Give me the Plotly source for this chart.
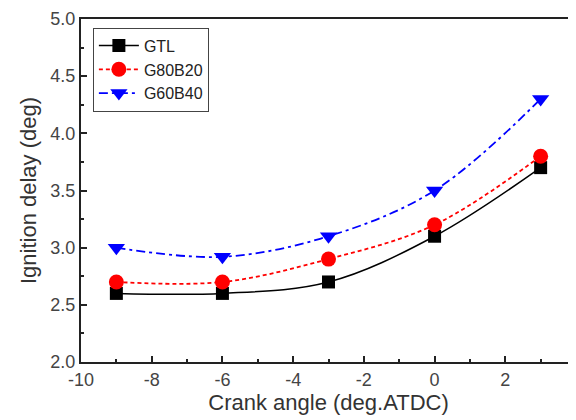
import plotly.graph_objects as go

crank_angle = [-9, -6, -3, 0, 3]
gtl = [2.6, 2.6, 2.7, 3.1, 3.7]
g80b20 = [2.7, 2.7, 2.9, 3.2, 3.8]
g60b40 = [3.0, 2.92, 3.1, 3.5, 4.3]
x_tick_vals = [-10, -8, -6, -4, -2, 0, 2, 4]
x_tick_text = ["-10", "-8", "-6", "-4", "-2", "0", "2", "4"]

fig = go.Figure()
fig.add_trace(go.Scatter(x=crank_angle, y=gtl, name="GTL", mode="lines+markers",
                         line=dict(color="black", width=1.5, shape="spline"),
                         marker=dict(symbol="square", size=13, color="black")))
fig.add_trace(go.Scatter(x=crank_angle, y=g80b20, name="G80B20", mode="lines+markers",
                         line=dict(color="red", width=1.8, shape="spline", dash="4px,3px"),
                         marker=dict(symbol="circle", size=15, color="red")))
fig.add_trace(go.Scatter(x=crank_angle, y=g60b40, name="G60B40", mode="lines+markers",
                         line=dict(color="blue", width=1.8, shape="spline", dash="9px,4px,3px,4px"),
                         marker=dict(symbol="triangle-down", size=15, color="blue")))

axis_common = dict(showgrid=False, zeroline=False, showline=True, linecolor="#222",
                   linewidth=2, mirror=True, ticks="inside", ticklen=6, tickwidth=1.5,
                   tickcolor="#222", automargin=False,
                   tickfont=dict(family="Liberation Sans, Arial", size=18, color="#444"))

fig.update_layout(
    width=576, height=420,
    margin=dict(l=73, r=8, t=11, b=66),
    paper_bgcolor="white", plot_bgcolor="white",
    showlegend=True,
    legend=dict(x=0.024, y=0.975, xanchor="left", yanchor="top",
                bordercolor="#444", borderwidth=1, bgcolor="white",
                font=dict(family="Liberation Sans, Arial", size=16, color="#222"),
                tracegroupgap=0, itemwidth=40),
    xaxis=dict(range=[-10, 4], tickvals=x_tick_vals, ticktext=x_tick_text,
               minor=dict(dtick=1, tick0=-10, ticks="inside", ticklen=3, tickcolor="#222"),
               title=dict(text="Crank angle (deg.ATDC)", standoff=4,
                          font=dict(family="Liberation Sans, Arial", size=22, color="#333")),
               **axis_common),
    yaxis=dict(range=[2.0, 5.0], dtick=0.5, tick0=2.0, tickformat=".1f",
               minor=dict(dtick=0.25, ticks="inside", ticklen=3, tickcolor="#222"),
               title=dict(text="Ignition delay (deg)", standoff=8,
                          font=dict(family="Liberation Sans, Arial", size=22, color="#333")),
               **axis_common),
)

fig.write_html("out.html")
